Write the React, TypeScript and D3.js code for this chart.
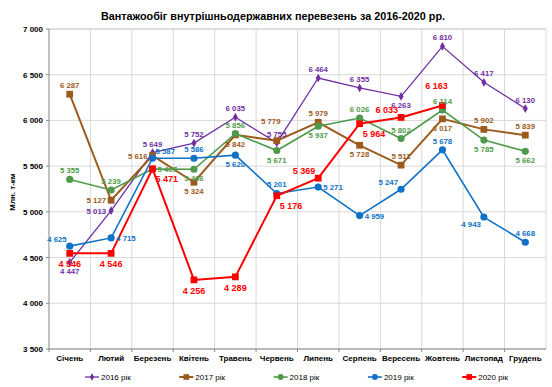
import React from 'react';
import * as d3 from 'd3';

const months = ['Січень', 'Лютий', 'Березень', 'Квітень', 'Травень', 'Червень', 'Липень', 'Серпень', 'Вересень', 'Жовтень', 'Листопад', 'Грудень'];
const yTicks = [3500, 4000, 4500, 5000, 5500, 6000, 6500, 7000];

const v2016 = [4447, 5013, 5649, 5752, 6035, 5755, 6464, 6355, 6263, 6810, 6417, 6130];
const v2017 = [6287, 5127, 5616, 5324, 5842, 5779, 5979, 5728, 5511, 6017, 5902, 5839];
const v2018 = [5355, 5239, 5467, 5466, 5856, 5671, 5937, 6026, 5802, 6114, 5785, 5662];
const v2019 = [4625, 4715, 5587, 5586, 5620, 5201, 5271, 4959, 5247, 5678, 4943, 4668];
const v2020 = [4546, 4546, 5471, 4256, 4289, 5176, 5369, 5964, 6033, 6163];

// where each data label sits relative to its point
const lab2016 = ['b', 'l', 't', 't', 't', 't', 't', 't', 'b', 't', 't', 't'];
const lab2017 = ['t', 'l', 'l', 'b', 'b', 'tt', 't', 'b', 't', 'b', 't', 't'];
const lab2018 = ['t', 't', 'r', 'b', 't', 'b', 'b', 't', 't', 't', 'b', 'b'];
const lab2019 = ['tl', 'r', 'tr', 't', 'b', 't', 'r', 'r', 'tl', 't', 'bl', 't'];
const lab2020 = ['b', 'b', 'br', 'b', 'b', 'br', 'tl', 'br', 'tl', 'tt'];

const series = [
  { name: '2016 рік', values: v2016, labels: lab2016, color: '#7030A0', symbol: d3.symbolDiamond, size: 22, width: 1.3, bold: false },
  { name: '2017 рік', values: v2017, labels: lab2017, color: '#9C5B1C', symbol: d3.symbolSquare, size: 46, width: 2, bold: false },
  { name: '2018 рік', values: v2018, labels: lab2018, color: '#4F9A4A', symbol: d3.symbolCircle, size: 40, width: 1.6, bold: false },
  { name: '2019 рік', values: v2019, labels: lab2019, color: '#0F72C6', symbol: d3.symbolCircle, size: 40, width: 1.6, bold: false },
  { name: '2020 рік', values: v2020, labels: lab2020, color: '#FF0000', symbol: d3.symbolSquare, size: 46, width: 2, bold: true },
];

const offsets: Record<string, [number, number, string]> = {
  t: [0, -6, 'middle'],
  tt: [-6, -17, 'middle'],
  b: [0, 12, 'middle'],
  l: [-5, 3, 'end'],
  r: [5, 3, 'start'],
  tl: [-3, -4, 'end'],
  tr: [3, -4, 'start'],
  bl: [-3, 10, 'end'],
  br: [3, 11, 'start'],
};

const fmt = (v: number) => d3.format(',')(v).replace(',', ' ');

export default function App() {
  const W = 552, H = 387;
  const left = 49, right = 546, top = 29, bottom = 349;
  const x = d3.scaleBand<string>().domain(months).range([left, right]);
  const y = d3.scaleLinear().domain([3500, 7000]).range([bottom, top]);
  const cx = (i: number) => (x(months[i]) as number) + x.bandwidth() / 2;
  const line = d3.line<number>().x((_, i) => cx(i)).y((d) => y(d));
  const font = 'Arial, "Liberation Sans", sans-serif';

  return (
    <svg width={W} height={H} style={{ position: 'absolute', left: 0, top: 0, background: '#fff' }} fontFamily={font}>
      <text x={273} y={20} textAnchor="middle" fontSize={10.8} fontWeight="bold" fill="#000">
        Вантажообіг внутрішньодержавних перевезень за 2016-2020 рр.
      </text>

      {/* grid */}
      {yTicks.map((t) => (
        <line key={t} x1={left} x2={right} y1={y(t)} y2={y(t)} stroke="#D9D9D9" />
      ))}
      {months.map((m) => (
        <line key={m} x1={(x(m) as number) + x.bandwidth()} x2={(x(m) as number) + x.bandwidth()} y1={top} y2={bottom} stroke="#D9D9D9" />
      ))}
      <line x1={left} x2={right} y1={top} y2={top} stroke="#D0D0D0" />

      {/* axes */}
      <line x1={left} x2={left} y1={top} y2={bottom} stroke="#868686" />
      <line x1={left} x2={right} y1={bottom} y2={bottom} stroke="#868686" />
      {yTicks.map((t) => (
        <g key={t}>
          <line x1={left - 3} x2={left} y1={y(t)} y2={y(t)} stroke="#868686" />
          <text x={left - 6} y={y(t) + 3} textAnchor="end" fontSize={8} fontWeight="bold" fill="#000">
            {fmt(t)}
          </text>
        </g>
      ))}
      {months.map((m, i) => (
        <g key={m}>
          <line x1={x(m) as number} x2={x(m) as number} y1={bottom} y2={bottom + 3} stroke="#868686" />
          <text x={cx(i)} y={bottom + 12} textAnchor="middle" fontSize={8} fontWeight="bold" fill="#000">
            {m}
          </text>
        </g>
      ))}
      <text transform={`translate(15, 192) rotate(-90)`} textAnchor="middle" fontSize={8} fontWeight="bold" fill="#000">
        Млн. т-км
      </text>

      {/* series */}
      {series.map((s) => (
        <g key={s.name}>
          <path d={line(s.values) as string} fill="none" stroke={s.color} strokeWidth={s.width} />
          {s.values.map((v, i) => (
            <path key={i} d={d3.symbol().type(s.symbol).size(s.size)() as string} transform={`translate(${cx(i)},${y(v)})`} fill={s.color} />
          ))}
        </g>
      ))}
      {series.map((s) => (
        <g key={s.name + 'l'}>
          {s.values.map((v, i) => {
            const o = offsets[s.labels[i]];
            const extra = s.bold && s.labels[i][0] === 'b' ? 2 : 0;
            return (
              <text key={i} x={cx(i) + o[0]} y={y(v) + o[1] + extra} textAnchor={o[2]} fontSize={s.bold ? 9 : 7.8} fontWeight="bold" fill={s.color}>
                {fmt(v)}
              </text>
            );
          })}
        </g>
      ))}

      {/* legend */}
      {series.map((s, k) => {
        const lx = 85 + k * 94.3;
        const ly = 377;
        return (
          <g key={s.name + 'g'}>
            <line x1={lx} x2={lx + 14} y1={ly} y2={ly} stroke={s.color} strokeWidth={s.width} />
            <path d={d3.symbol().type(s.symbol).size(s.size * 0.7)() as string} transform={`translate(${lx + 7},${ly})`} fill={s.color} />
            <text x={lx + 16} y={ly + 3} fontSize={8} fill="#000">
              {s.name}
            </text>
          </g>
        );
      })}
    </svg>
  );
}
